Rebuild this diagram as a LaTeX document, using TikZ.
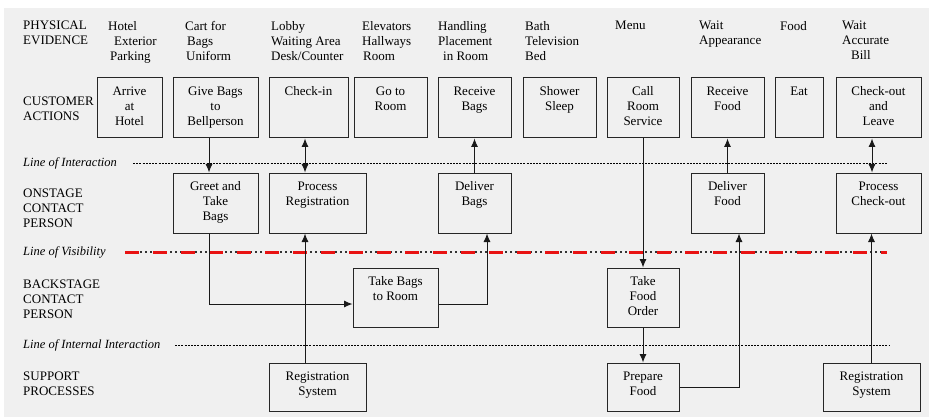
\documentclass[tikz,border=0pt]{standalone}
\usepackage{fontspec}
\setmainfont{Liberation Serif}
\usetikzlibrary{arrows.meta}
\usetikzlibrary{positioning,backgrounds}
\pgfdeclarelayer{edgelayer}
\pgfdeclarelayer{nodelayer}
\pgfsetlayers{background,edgelayer,nodelayer,main}
\definecolor{scan}{RGB}{240,240,240}
\definecolor{vis}{RGB}{232,18,18}
\tikzstyle{box}=[draw=black!85,line width=1pt,fill=scan,inner sep=0pt]
\tikzstyle{inbox}=[anchor=north,align=center,inner sep=0pt,yshift=-9pt]
\tikzstyle{lane}=[anchor=west,align=left,inner sep=0pt]
\tikzstyle{evid}=[anchor=north west,align=left,inner sep=0pt]
\tikzstyle{lineof}=[anchor=west,inner sep=0pt,font=\fontsize{12.5}{15}\itshape]
\tikzstyle{edge}=[line width=0.9pt,black!90]
\tikzstyle{flow}=[edge,-{Latex[length=8.5pt,width=7pt]}]
\tikzstyle{both}=[edge,{Latex[length=8.5pt,width=7pt]}-{Latex[length=8.5pt,width=7pt]}]
\tikzstyle{fine}=[line width=0.8pt,dash pattern=on 2pt off 1.2pt]

\begin{document}
\begin{tikzpicture}[x=1pt,y=-1pt,font={\fontsize{13}{15}\selectfont}]
	\useasboundingbox (0,0) rectangle (929,417);
	\begin{pgfonlayer}{background}
		\fill [scan] (4,8) rectangle (929,417);
	\end{pgfonlayer}
	\begin{pgfonlayer}{nodelayer}
		% lanes
		\node [style=lane] (pe) at (23, 33) {PHYSICAL\\EVIDENCE};
		\node [style=lane] (ca) at (23, 108.5) {CUSTOMER\\ACTIONS};
		\node [style=lane] (oc) at (23, 208) {ONSTAGE\\CONTACT\\PERSON};
		\node [style=lane] (bc) at (23, 299) {BACKSTAGE\\CONTACT\\PERSON};
		\node [style=lane] (sp) at (23, 384) {SUPPORT\\PROCESSES};
		\node [style=lineof] (loi) at (23, 163) {Line of Interaction};
		\node [style=lineof] (lov) at (23, 252) {Line of Visibility};
		\node [style=lineof] (lii) at (23, 345) {Line of Internal Interaction};
		% physical evidence
		\node [style=evid] (ev1) at (108, 21) {Hotel\\\hspace*{6pt}Exterior\\\hspace*{2pt}Parking};
		\node [style=evid] (ev2) at (185, 21) {Cart for\\\hspace*{2pt}Bags\\\hspace*{1pt}Uniform};
		\node [style=evid] (ev3) at (271, 21) {Lobby\\Waiting Area\\Desk/Counter};
		\node [style=evid] (ev4) at (362, 21) {Elevators\\Hallways\\\hspace*{1pt}Room};
		\node [style=evid] (ev5) at (438, 21) {Handling\\Placement\\\hspace*{5pt}in Room};
		\node [style=evid] (ev6) at (525, 21) {Bath\\Television\\Bed};
		\node [style=evid] (ev7) at (615, 21) {Menu};
		\node [style=evid] (ev8) at (699, 21) {Wait\\Appearance};
		\node [style=evid] (ev9) at (780, 21) {Food};
		\node [style=evid] (ev10) at (842, 21) {Wait\\Accurate\\\hspace*{9pt}Bill};
		% customer actions
		\node [style=box, minimum width=65pt, minimum height=60pt, label={[inbox]north:Arrive\\at\\Hotel}] (arrive) at (129.5, 108) {};
		\node [style=box, minimum width=85pt, minimum height=60pt, label={[inbox]north:Give Bags\\to\\Bellperson}] (give) at (215.5, 108) {};
		\node [style=box, minimum width=79pt, minimum height=60pt, label={[inbox]north:Check-in}] (checkin) at (308.5, 108) {};
		\node [style=box, minimum width=73pt, minimum height=60pt, label={[inbox]north:Go to\\Room}] (goroom) at (390.5, 108) {};
		\node [style=box, minimum width=73pt, minimum height=60pt, label={[inbox]north:Receive\\Bags}] (recbags) at (474.5, 108) {};
		\node [style=box, minimum width=73pt, minimum height=60pt, label={[inbox]north:Shower\\Sleep}] (shower) at (559.5, 108) {};
		\node [style=box, minimum width=72pt, minimum height=60pt, label={[inbox]north:Call\\Room\\Service}] (callrs) at (643, 108) {};
		\node [style=box, minimum width=73pt, minimum height=60pt, label={[inbox]north:Receive\\Food}] (recfood) at (727.5, 108) {};
		\node [style=box, minimum width=48pt, minimum height=60pt, label={[inbox]north:Eat}] (eat) at (799, 108) {};
		\node [style=box, minimum width=85pt, minimum height=60pt, label={[inbox]north:Check-out\\and\\Leave}] (checkout) at (878.5, 108) {};
		% onstage
		\node [style=box, minimum width=85pt, minimum height=60pt, label={[inbox]north:Greet and\\Take\\Bags}] (greet) at (215.5, 203) {};
		\node [style=box, minimum width=97pt, minimum height=60pt, label={[inbox]north:Process\\Registration}] (procreg) at (317.5, 203) {};
		\node [style=box, minimum width=73pt, minimum height=60pt, label={[inbox]north:Deliver\\Bags}] (delbags) at (474.5, 203) {};
		\node [style=box, minimum width=73pt, minimum height=60pt, label={[inbox]north:Deliver\\Food}] (delfood) at (727.5, 203) {};
		\node [style=box, minimum width=85pt, minimum height=60pt, label={[inbox]north:Process\\Check-out}] (proccheck) at (878.5, 203) {};
		% backstage
		\node [style=box, minimum width=85pt, minimum height=59pt, label={[inbox]north:Take Bags\\to Room}] (takebags) at (395.5, 297.5) {};
		\node [style=box, minimum width=72pt, minimum height=59pt, label={[inbox]north:Take\\Food\\Order}] (takefood) at (643, 297.5) {};
		% support
		\node [style=box, minimum width=97pt, minimum height=48pt, label={[inbox]north:Registration\\System}] (regsys) at (317.5, 387) {};
		\node [style=box, minimum width=72pt, minimum height=48pt, label={[inbox]north:Prepare\\Food}] (prepfood) at (643, 387) {};
		\node [style=box, minimum width=97pt, minimum height=48pt, label={[inbox]north:Registration\\System}] (regsys2) at (871.5, 387) {};
	\end{pgfonlayer}
	\begin{pgfonlayer}{edgelayer}
		\draw [style=fine] (133, 163) -- (887, 163);
		\draw [line width=1.8pt, black!80, dash pattern=on 2pt off 3pt] (125, 252) -- (887, 252);
		\draw [line width=3pt, vis, dash pattern=on 14pt off 14pt] (125, 252) -- (887, 252);
		\draw [style=fine] (175, 345) -- (890, 345);
		\draw [style=flow] ([xshift=-6.5pt]give.south) to ([xshift=-6.5pt]greet.north);
		\draw [style=both] ([xshift=-3.5pt]checkin.south) to ([xshift=-12.5pt]procreg.north);
		\draw [style=flow] ([xshift=-6.5pt]greet.south) |- ([yshift=-6.5pt]takebags.west);
		\draw [style=flow] ([xshift=-12.5pt]regsys.north) to ([xshift=-12.5pt]procreg.south);
		\draw [style=flow] ([yshift=-6.5pt]takebags.east) -| ([xshift=12.5pt]delbags.south);
		\draw [style=flow] (delbags) to (recbags);
		\draw [style=flow] (callrs) to (takefood);
		\draw [style=flow] (takefood) to (prepfood);
		\draw [style=flow] (prepfood.east) -| ([xshift=11.5pt]delfood.south);
		\draw [style=flow] (delfood) to (recfood);
		\draw [style=both] ([xshift=-6.5pt]checkout.south) to ([xshift=-6.5pt]proccheck.north);
		\draw [style=flow] (regsys2.north) to (regsys2.north |- proccheck.south);
	\end{pgfonlayer}
\end{tikzpicture}
\end{document}
